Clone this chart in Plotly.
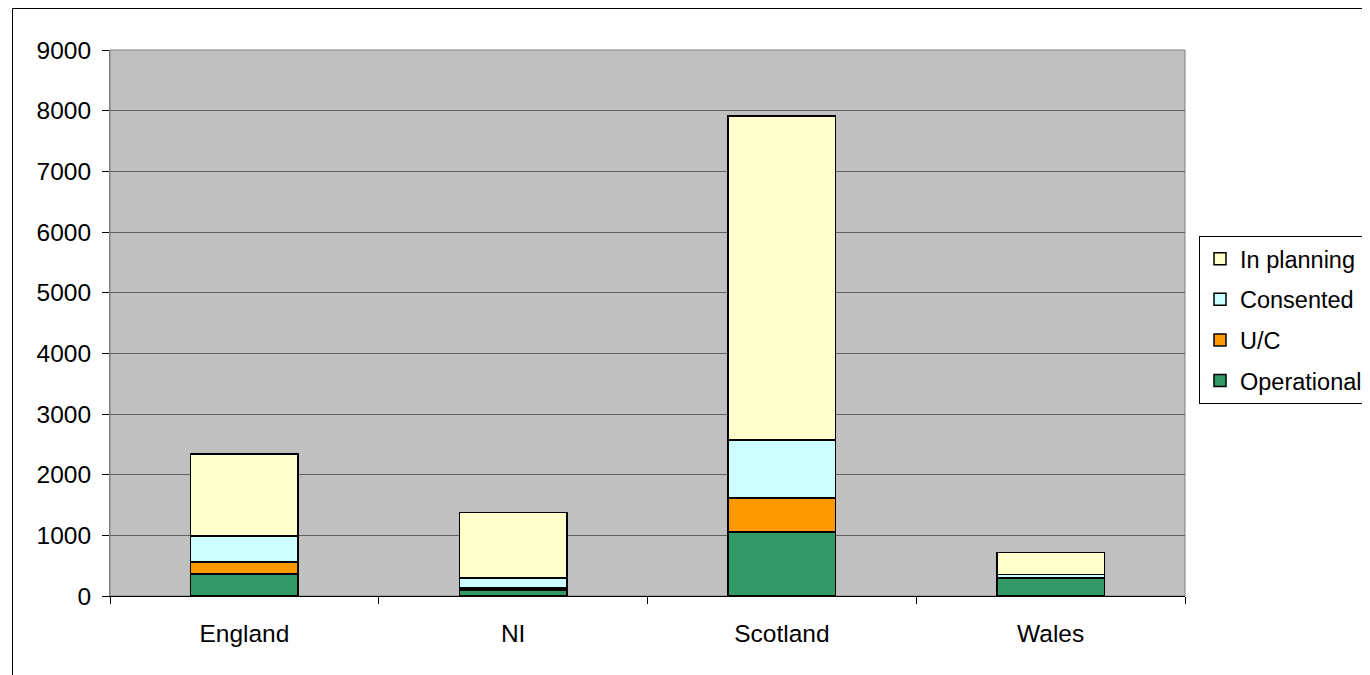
import plotly.graph_objects as go

regions = ["England", "NI", "Scotland", "Wales"]
operational = [365, 95, 1055, 295]
under_construction = [195, 40, 560, 0]
consented = [430, 160, 955, 60]
in_planning = [1350, 1085, 5340, 365]

series = [
    ("Operational", operational, "#339966"),
    ("U/C", under_construction, "#FF9900"),
    ("Consented", consented, "#CCFFFF"),
    ("In planning", in_planning, "#FFFFCC"),
]

FONT = "Liberation Sans, Arial, sans-serif"
FS = 24.5
LFS = 23.5

fig = go.Figure()
for i, (name, vals, col) in enumerate(series):
    fig.add_trace(go.Bar(
        x=regions, y=vals, name=name, legendgroup=f"g{i}",
        legendrank=len(series) - i,
        marker=dict(color=col, line=dict(color="black", width=1.5)),
    ))

# page has an 8px body margin; figure sized to fill the rest of the window
OFF = 8
W, H = 1370 - OFF, 675 - OFF
L, T = 110 - OFF, 50 - OFF
pw, ph = 1075, 546
R, B = W - L - pw, H - T - ph
BOT = 596 - OFF  # plot bottom in figure pixels


def px(page_x):
    return (page_x - OFF - L) / pw


def py(page_y):
    return (BOT - (page_y - OFF)) / ph


fig.update_layout(
    width=W, height=H,
    barmode="stack", bargap=0.6,
    paper_bgcolor="white", plot_bgcolor="#C0C0C0",
    margin=dict(l=L, r=R, t=T, b=B, autoexpand=False),
    font=dict(family=FONT, size=FS, color="black"),
    showlegend=True,
    legend=dict(
        x=px(1199), xanchor="left",
        y=py(236), yanchor="top",
        bgcolor="white", bordercolor="black", borderwidth=1,
        traceorder="grouped", tracegroupgap=7,
        font=dict(family=FONT, size=LFS),
        itemwidth=30,
    ),
    xaxis=dict(
        showline=True, linecolor="black", linewidth=1,
        ticks="outside", ticklen=7, tickcolor="black",
        tickson="boundaries", ticklabelstandoff=16,
        showgrid=False, zeroline=False,
    ),
    yaxis=dict(
        range=[0, 9000], dtick=1000, tickformat="d",
        showline=True, linecolor="#808080", linewidth=1,
        ticks="outside", ticklen=7, tickcolor="black",
        showgrid=True, gridcolor="#606060", gridwidth=1,
        zeroline=False, ticklabelstandoff=6,
    ),
    shapes=[
        dict(type="rect", xref="paper", yref="paper", x0=0, x1=1, y0=0, y1=1,
             line=dict(color="#808080", width=1), layer="below"),
        dict(type="rect", xref="paper", yref="paper",
             x0=px(12.5), x1=px(1400),
             y0=py(700), y1=py(8.5),
             line=dict(color="black", width=1)),
    ],
)

fig.write_html("out.html")
